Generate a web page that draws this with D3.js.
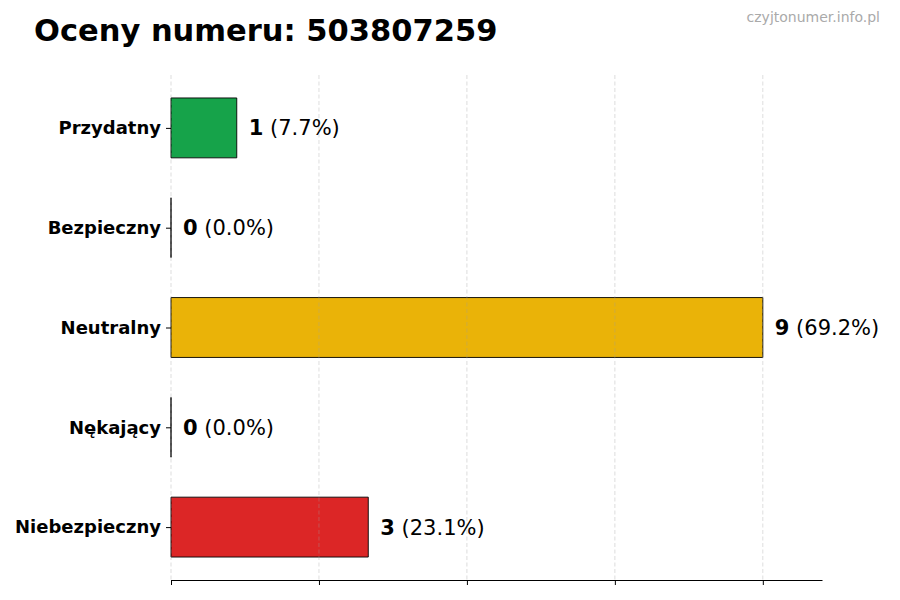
<!DOCTYPE html>
<html>
<head>
<meta charset="utf-8">
<script src="https://cdn.jsdelivr.net/npm/d3@7"></script>
<style>
  body { margin: 0; background: #fff; }
  text { font-family: "DejaVu Sans", sans-serif; }
</style>
</head>
<body>
<div id="chart"></div>
<script>
const categories = ['Przydatny', 'Bezpieczny', 'Neutralny', 'Nękający', 'Niebezpieczny']
const counts = [1, 0, 9, 0, 3]
const percents = ['7.7%', '0.0%', '69.2%', '0.0%', '23.1%']
const colors = ['#16a34a', '#16a34a', '#eab308', '#dc2626', '#dc2626']
const xTicks = [0, 2.25, 4.5, 6.75, 9]

const width = 900
const height = 600
const margin = { top: 75, right: 78, bottom: 20, left: 171 }
const innerW = width - margin.left - margin.right
const innerH = height - margin.top - margin.bottom

const svg = d3.select('#chart')
    .append('svg')
    .attr('width', width)
    .attr('height', height)

svg.append('text')
    .attr('x', 34)
    .attr('y', 41)
    .attr('font-size', 30.5)
    .attr('font-weight', 'bold')
    .attr('fill', '#000')
    .text('Oceny numeru: 503807259')

svg.append('text')
    .attr('x', 880)
    .attr('y', 22)
    .attr('text-anchor', 'end')
    .attr('font-size', 14)
    .attr('fill', '#aaaaaa')
    .text('czyjtonumer.info.pl')

const g = svg.append('g')
    .attr('transform', `translate(${margin.left}, ${margin.top})`)

const maxVal = d3.max(counts)
const x = d3.scaleLinear()
    .domain([0, maxVal * 1.1])
    .range([0, innerW])

// matplotlib-style y: positions 0..n-1 with 5% margins
const n = categories.length
const barH = 0.6
const y = d3.scaleLinear()
    .domain([-barH / 2 - (n - 1 + barH) * 0.05, n - 1 + barH / 2 + (n - 1 + barH) * 0.05])
    .range([0, innerH])

// bars as paths so zero-width bars still show their edge
g.selectAll('.bar')
    .data(counts)
    .enter()
    .append('path')
    .attr('d', (d, i) => {
        const x0 = x(0), x1 = x(d)
        const y0 = y(i - barH / 2), y1 = y(i + barH / 2)
        return `M${x0},${y0}H${x1}V${y1}H${x0}Z`
    })
    .attr('fill', (d, i) => colors[i])
    .attr('stroke', '#000')
    .attr('stroke-width', 0.9)

// grid on top of bars, semi-transparent
g.selectAll('.grid')
    .data(xTicks)
    .enter()
    .append('line')
    .attr('x1', d => x(d))
    .attr('x2', d => x(d))
    .attr('y1', 0)
    .attr('y2', innerH)
    .attr('stroke', '#a0a0a0')
    .attr('stroke-opacity', 0.45)
    .attr('stroke-width', 0.8)
    .attr('stroke-dasharray', '4,2.5')

// value labels
const labels = g.selectAll('.lbl')
    .data(counts)
    .enter()
    .append('text')
    .attr('x', d => x(d) + 12)
    .attr('y', (d, i) => y(i))
    .attr('dy', '0.36em')
    .attr('font-size', 21)
    .attr('fill', '#000')
labels.append('tspan')
    .attr('font-weight', 'bold')
    .text(d => d)
labels.append('tspan')
    .text((d, i) => ` (${percents[i]})`)

// y axis: ticks and labels only
const yAxis = g.append('g')
    .call(d3.axisLeft(y)
        .tickValues(d3.range(n))
        .tickFormat(i => categories[i])
        .tickSize(5)
        .tickPadding(5))
yAxis.select('.domain').remove()
yAxis.selectAll('text')
    .attr('font-size', 18)
    .attr('font-weight', 'bold')
    .attr('fill', '#000')
    .style('font-family', '"DejaVu Sans", sans-serif')

// x axis: spine and ticks, no labels
const xAxis = g.append('g')
    .attr('transform', `translate(0, ${innerH})`)
    .call(d3.axisBottom(x)
        .tickValues(xTicks)
        .tickFormat('')
        .tickSize(5)
        .tickSizeOuter(0))
xAxis.select('.domain').attr('stroke-width', 1.1)
</script>
</body>
</html>
